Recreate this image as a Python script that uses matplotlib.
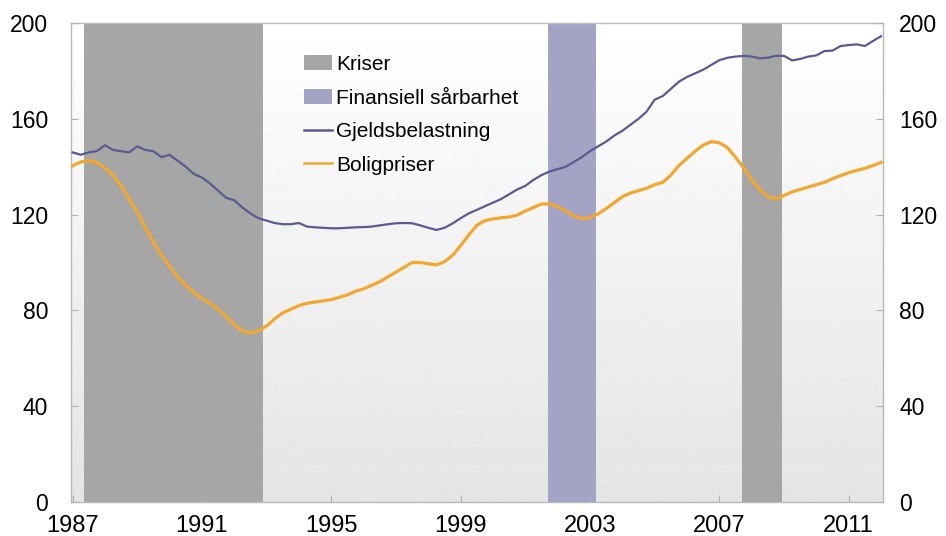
import numpy as np
import matplotlib.pyplot as plt
from matplotlib.patches import Patch
from matplotlib.lines import Line2D

plt.rcParams['font.family'] = ['Liberation Sans', 'DejaVu Sans']

# kvartalsvis, 1. kv. 1987 - 1. kv. 2012
start_year = 1987
gjeld = [
    146, 145, 146, 146.5,        # 1987
    149, 147, 146.5, 146,        # 1988
    148.5, 147, 146.5, 144,      # 1989
    145, 142.5, 140, 137,        # 1990
    135.5, 133, 130, 127,        # 1991
    126, 123, 120.5, 118.5,      # 1992
    117.5, 116.5, 116, 116,      # 1993
    116.5, 115, 114.7, 114.5,    # 1994
    114.3, 114.3, 114.5, 114.7,  # 1995
    114.8, 115, 115.5, 116,      # 1996
    116.4, 116.5, 116.4, 115.5,  # 1997
    114.5, 113.6, 114.5, 116.3,  # 1998
    118.5, 120.5, 122, 123.5,    # 1999
    125, 126.5, 128.5, 130.5,    # 2000
    132, 134.5, 136.5, 138,      # 2001
    139, 140, 142, 144,          # 2002
    146.5, 148.5, 150.5, 153,    # 2003
    155, 157.5, 160, 163,        # 2004
    168, 169.5, 172.5, 175.5,    # 2005
    177.5, 179, 180.5, 182.5,    # 2006
    184.5, 185.5, 186, 186.3,    # 2007
    186, 185.3, 185.5, 186.3,    # 2008
    186.3, 184.4, 185, 186,      # 2009
    186.5, 188.3, 188.5, 190.4,  # 2010
    190.8, 191.1, 190.4, 192.5,  # 2011
    194.5,                       # 2012
]
bolig = [
    140.4, 142, 142.5, 141.8,    # 1987
    139.5, 136.5, 132, 126.5,    # 1988
    121, 114.5, 108.5, 103,      # 1989
    98.5, 94, 90.5, 87.5,        # 1990
    85, 83, 80.5, 77.5,          # 1991
    74, 71.5, 70.5, 71.5,        # 1992
    73.5, 76.5, 79, 80.5,        # 1993
    82, 83, 83.5, 84,            # 1994
    84.5, 85.5, 86.5, 88,        # 1995
    89, 90.5, 92, 94,            # 1996
    96, 98, 100, 100,            # 1997
    99.5, 99, 100.3, 103,        # 1998
    107, 111.5, 115.5, 117.5,    # 1999
    118.2, 118.7, 119, 119.8,    # 2000
    121.5, 123, 124.4, 124.5,    # 2001
    123.3, 121.5, 119.5, 118.3,  # 2002
    118.8, 120.3, 122.5, 125,    # 2003
    127.5, 129, 130, 131,        # 2004
    132.5, 133.5, 136.5, 140.5,  # 2005
    143.5, 146.5, 149, 150.5,    # 2006
    150, 148, 144, 139.5,        # 2007
    134.5, 130.5, 127.5, 126.5,  # 2008
    128, 129.5, 130.5, 131.5,    # 2009
    132.5, 133.5, 135, 136.3,    # 2010
    137.5, 138.5, 139.3, 140.5,  # 2011
    141.8,                       # 2012
]
kriser = [(1987.35, 1992.9), (2007.7, 2008.95)]
saarbarhet = [(2001.7, 2003.2)]
xticks = [1987, 1991, 1995, 1999, 2003, 2007, 2011]
yticks = [0, 40, 80, 120, 160, 200]

t = start_year + np.arange(len(gjeld)) / 4.0

c_krise = '#a6a6a6'
c_saar = '#a3a3c6'
c_gjeld = '#5c5a8e'
c_bolig = '#f2a72e'

fig = plt.figure(figsize=(9.46, 5.36), dpi=100)
ax = fig.add_axes([0.075, 0.0634, 0.858, 0.8936])

x0, x1 = 1986.95, 2012.05
ax.set_xlim(x0, x1)
ax.set_ylim(0, 200)

# bakgrunn med gradient
grad = np.linspace(1.0, 0.895, 256).reshape(-1, 1)
ax.imshow(grad, cmap='gray', vmin=0, vmax=1, aspect='auto',
          extent=[x0, x1, 0, 200], origin='upper', zorder=0)

for a, b in kriser:
    ax.axvspan(a, b, color=c_krise, lw=0, zorder=1)
for a, b in saarbarhet:
    ax.axvspan(a, b, color=c_saar, lw=0, zorder=1)

ax.plot(t, gjeld, color=c_gjeld, lw=1.6, zorder=3)
ax.plot(t, bolig, color=c_bolig, lw=2.3, zorder=3)

ax.set_xticks(xticks)
ax.set_yticks(yticks)
ax.tick_params(axis='y', direction='in', length=5, color='#b0b0b0',
               labelsize=16.5, left=True, right=False, pad=16.5)
ax.tick_params(axis='x', direction='in', length=5, color='#b0b0b0', labelsize=17, pad=9)
for s in ax.spines.values():
    s.set_color('#b8b8b8')
    s.set_linewidth(1.0)

# høyre akse
ax2 = ax.twinx()
ax2.set_ylim(0, 200)
ax2.set_yticks(yticks)
ax2.tick_params(axis='y', direction='in', length=5, color='#b0b0b0',
                labelsize=16.5, pad=12)
for s in ax2.spines.values():
    s.set_visible(False)

handles = [Patch(facecolor=c_krise, edgecolor='none'),
           Patch(facecolor=c_saar, edgecolor='none'),
           Line2D([], [], color=c_gjeld, lw=1.8),
           Line2D([], [], color=c_bolig, lw=1.8)]
labels = ['Kriser', 'Finansiell sårbarhet', 'Gjeldsbelastning', 'Boligpriser']
leg = ax2.legend(handles, labels, loc='upper left', bbox_to_anchor=(304 / 946, 1 - 55 / 536),
                 bbox_transform=fig.transFigure, frameon=False, fontsize=15,
                 handlelength=1.35, handleheight=0.7, handletextpad=0.2, labelspacing=0.7,
                 borderaxespad=0, borderpad=0)

fig.savefig('out.png', dpi=100)
